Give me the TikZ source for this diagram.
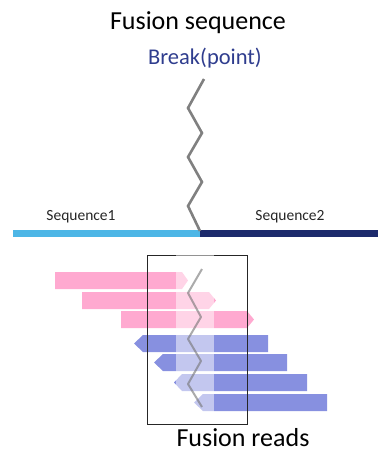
\documentclass[tikz,border=0pt]{standalone}
\usepackage{fontspec}
\setmainfont{Carlito}
\definecolor{seqA}{HTML}{4DB6E6}
\definecolor{seqB}{HTML}{1C2A6C}
\definecolor{brk}{HTML}{2F3D8E}
\definecolor{pinkD}{HTML}{FFA9D0}
\definecolor{pinkL}{HTML}{FFD2E6}
\definecolor{blueD}{HTML}{8790E0}
\definecolor{blueL}{HTML}{C4C8F2}
\tikzset{
  title/.style={font=\fontsize{26}{29}\selectfont, text=black, inner sep=0pt},
  seqlabel/.style={font=\fontsize{15.5}{17}\selectfont, text=black!85, inner sep=0pt},
  zig/.style={draw=black!50, line width=2.6pt, line join=miter},
  zigB/.style={draw=black!55, draw opacity=0.6, line width=2pt, line join=round},
}
\begin{document}
\begin{tikzpicture}[x=1pt,y=-1pt]
\useasboundingbox (0,0) rectangle (378,451);
% titles
\node[title] (ttl) at (198,23) {Fusion sequence};
\node[title, font=\fontsize{22.5}{25}\selectfont, text=brk] (brkl) at (205,58) {Break(point)};
% sequence line
\fill[seqA] (13,230) rectangle (200,237);
\fill[seqB] (200,230) rectangle (378,237);
\node[seqlabel] (s1) at (81,217) {Sequence1};
\node[seqlabel] (s2) at (290,217) {Sequence2};
% zigzag
\draw[zig] (204,79) -- (188,108) -- (202,133) -- (188,157) -- (202,182) -- (188,206) -- (200,231);
% reads
\newcommand{\fwd}[5]{% y1 y2 xstart xend tip
  \fill[pinkD] (#3,#1) -- (#4,#1) -- (#5,{(#1+#2)/2}) -- (#4,#2) -- (#3,#2) -- cycle;}
\newcommand{\rev}[5]{% y1 y2 tip xstart xend
  \fill[blueD] (#4,#1) -- (#5,#1) -- (#5,#2) -- (#4,#2) -- (#3,{(#1+#2)/2}) -- cycle;}
\fwd{272}{289}{55}{182}{188}
\fwd{292}{309}{82}{209}{216}
\fwd{311}{328}{121}{247}{254}
\rev{335}{352}{134}{143}{268}
\rev{354}{371}{154}{163}{287}
\rev{374}{391}{174}{182}{307}
\rev{394}{411}{194}{203}{327}
% box
\draw[black!85, line width=1pt] (147,255.5) rectangle (247,424);
% light overlay column
\fill[white, fill opacity=0.5] (176,250) rectangle (214,416);
% lower zigzag
\draw[zigB] (202,269) -- (188,293) -- (201,317) -- (188,339) -- (201,361) -- (188,384) -- (202,407);
\node[title, anchor=base] (fr) at (243,446) {Fusion reads};
\end{tikzpicture}
\end{document}
